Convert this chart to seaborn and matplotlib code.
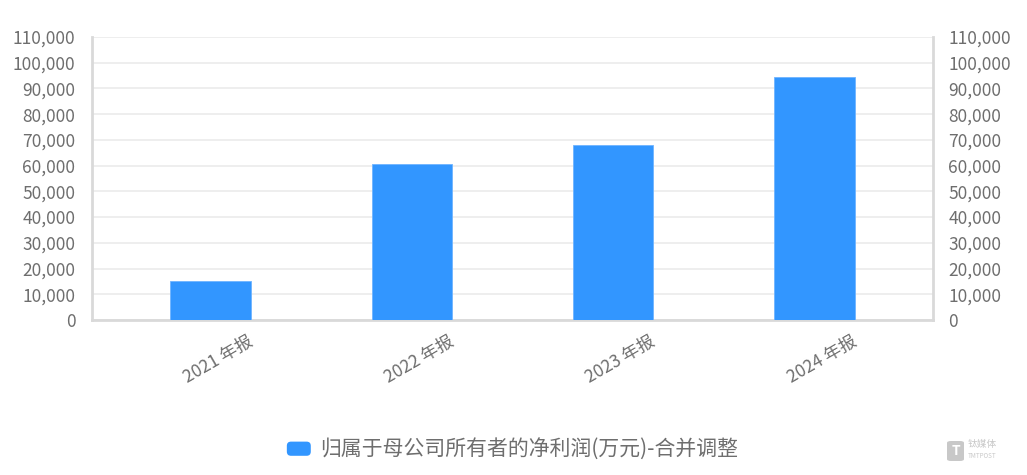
import matplotlib
matplotlib.use("Agg")
import matplotlib.pyplot as plt
import matplotlib.transforms as mtransforms
from matplotlib.patches import Patch, FancyBboxPatch
from matplotlib.legend_handler import HandlerPatch
import seaborn as sns
import pandas as pd

categories = ["2021 年报", "2022 年报", "2023 年报", "2024 年报"]
values = [15300, 60800, 67900, 94400]
series_name = "归属于母公司所有者的净利润(万元)-合并调整"
yticks = list(range(0, 110001, 10000))
ytick_labels = [f"{v:,}" for v in yticks]

bar_color = "#3296FF"
text_color = "#6E6E6E"
axis_color = "#D9D9D9"
grid_color = "#EBEBEB"

sns.set_theme(style="white")
plt.rcParams["font.family"] = ["Noto Sans CJK SC", "DejaVu Sans"]

df = pd.DataFrame({"period": categories, "value": values})

W, H = 1027, 475
fig = plt.figure(figsize=(W / 100, H / 100), dpi=100)
left, right, top, bottom = 92, 933, 37, 320
ax = fig.add_axes([left / W, 1 - bottom / H, (right - left) / W, (bottom - top) / H])

sns.barplot(data=df, x="period", y="value", color=bar_color, width=0.4,
            saturation=1, ax=ax, zorder=3, edgecolor="#6FB4FF", linewidth=0.6)

ax.set_xlim(-0.59, 3.59)
ax.set_ylim(0, 110000)
ax.set_yticks(yticks)
ax.set_yticklabels(ytick_labels)
ax.set_xlabel("")
ax.set_ylabel("")
ax.grid(axis="y", color=grid_color, linewidth=1.2, zorder=0)
ax.set_axisbelow(True)

for side in ["left", "bottom"]:
    ax.spines[side].set_visible(True)
    ax.spines[side].set_color(axis_color)
    ax.spines[side].set_linewidth(2)
ax.spines["top"].set_visible(False)
ax.spines["right"].set_visible(False)

ax.tick_params(axis="y", length=0, pad=12, labelsize=12.5, labelcolor=text_color)
ax.tick_params(axis="x", length=0, pad=0, labelsize=12.5, labelcolor=text_color)

offset = mtransforms.ScaledTranslation(41 / 100, -20 / 100, fig.dpi_scale_trans)
for lbl in ax.get_xticklabels():
    lbl.set_rotation(30)
    lbl.set_ha("right")
    lbl.set_va("center")
    lbl.set_rotation_mode("anchor")
    lbl.set_transform(lbl.get_transform() + offset)

ax2 = ax.twinx()
ax2.set_ylim(0, 110000)
ax2.set_yticks(yticks)
ax2.set_yticklabels(ytick_labels)
ax2.tick_params(axis="y", length=0, pad=11, labelsize=12.5, labelcolor=text_color)
for side in ["left", "top", "bottom"]:
    ax2.spines[side].set_visible(False)
ax2.spines["right"].set_visible(True)
ax2.spines["right"].set_color(axis_color)
ax2.spines["right"].set_linewidth(2)
ax2.grid(False)


def rounded_patch(legend, orig_handle, xdescent, ydescent, width, height, fontsize):
    return FancyBboxPatch((-xdescent, -ydescent), width, height,
                          boxstyle="round,pad=0,rounding_size=3")


handle = Patch(facecolor=bar_color, edgecolor="none", label=series_name)
leg = fig.legend(handles=[handle], loc="center", bbox_to_anchor=(512.5 / W, 1 - 450 / H),
                 frameon=False, fontsize=15, handlelength=1.15, handleheight=0.67,
                 handletextpad=0.45, labelcolor=text_color,
                 handler_map={Patch: HandlerPatch(patch_func=rounded_patch)})

# watermark
wm_color = "#C8C8C8"
icon = FancyBboxPatch((947 / W, 1 - 461 / H), 17 / W, 20 / H,
                      boxstyle="round,pad=0,rounding_size=0.004",
                      transform=fig.transFigure, facecolor=wm_color, edgecolor="none")
fig.patches.append(icon)
fig.text(955.5 / W, 1 - 451 / H, "T", color="white", fontsize=10, fontweight="bold",
         ha="center", va="center")
fig.text(968 / W, 1 - 444 / H, "钛媒体", color=wm_color, fontsize=7, ha="left", va="center")
fig.text(968 / W, 1 - 456 / H, "TMTPOST", color=wm_color, fontsize=4.5, ha="left", va="center")

fig.savefig("out.png", dpi=100, facecolor="white")
